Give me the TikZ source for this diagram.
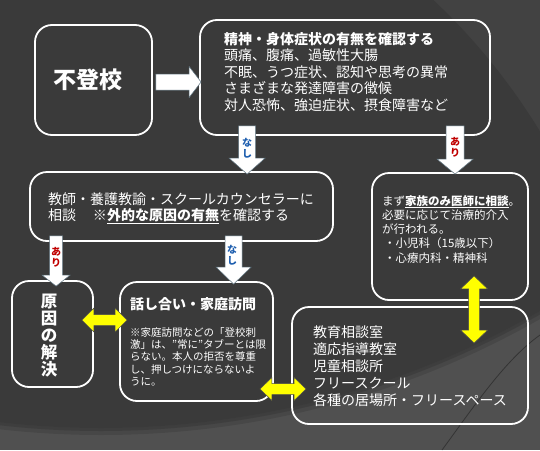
\documentclass[tikz,border=0pt]{standalone}
\usepackage{fontspec}
\setmainfont{Noto Sans CJK JP}
\usetikzlibrary{calc}
\definecolor{bgdark}{HTML}{3A3A3A}
\definecolor{bglight}{HTML}{505050}
\definecolor{bgmid}{HTML}{424242}
\definecolor{lblblue}{HTML}{1F5FAF}
\definecolor{lblred}{HTML}{C00000}
\definecolor{arrowedge}{HTML}{5F7480}
\definecolor{yel}{HTML}{FFFF00}
\newcommand\blkarrow[6]{%
  \path ($(#3)!#6!(#2)$) coordinate (bah);
  \draw[#1] ($(#2)!#4!90:(#3)$) -- ($(bah)!#4!90:(#3)$) -- ($(bah)!#5!90:(#3)$) -- (#3)
    -- ($(bah)!#5!-90:(#3)$) -- ($(bah)!#4!-90:(#3)$) -- ($(#2)!#4!-90:(#3)$) -- cycle;
}
\newcommand\dblarrow[6]{%
  \path ($(#2)!#6!(#3)$) coordinate (dah) ($(#3)!#6!(#2)$) coordinate (dbh);
  \draw[#1] (#2) -- ($(dah)!#5!90:(#3)$) -- ($(dah)!#4!90:(#3)$) -- ($(dbh)!#4!90:(#3)$)
    -- ($(dbh)!#5!90:(#3)$) -- (#3) -- ($(dbh)!#5!-90:(#3)$) -- ($(dbh)!#4!-90:(#3)$)
    -- ($(dah)!#4!-90:(#3)$) -- ($(dah)!#5!-90:(#3)$) -- cycle;
}
\tikzset{
  box/.style={draw=white, line width=1.8pt, rounded corners=17pt, inner sep=0pt},
  txt/.style={text=white, inner sep=0pt, align=left},
  lbl/.style={font=\fontsize{10}{11}\selectfont\bfseries, align=center, inner sep=0pt},
  wa/.style={fill=white, draw=arrowedge, line width=0.5pt},
  ya/.style={fill=yel, draw=gray!60!black, line width=0.5pt},
}
\begin{document}
\begin{tikzpicture}[x=1pt,y=-1pt]
\useasboundingbox (0,0) rectangle (540,450);
% background
\begin{scope}
\clip (0,0) rectangle (540,450);
\fill[bglight] (0,0) rectangle (540,450);
\draw[black, opacity=0.10, line width=14pt] (101,-453) circle[radius=881pt];
\draw[black, opacity=0.12, line width=6pt] (101,-453) circle[radius=881pt];
\fill[bgmid] (101,-453) circle[radius=881pt];
\begin{scope}
\clip (101,-453) circle[radius=881pt];
\fill[bgdark] (0,460) circle[radius=632pt];
\end{scope}
\draw[black!80!gray, opacity=0.5, line width=0.8pt] (442,450) .. controls (475,405) and (505,360) .. (540,335);
\end{scope}
% boxes
\node[box, minimum width=117pt, minimum height=110pt] (b1) at (93.5,80) {};
\node[txt, font=\fontsize{23}{26}\selectfont\bfseries] (t1) at (88,80) {不登校};
\node[box, minimum width=290pt, minimum height=115pt] (b2) at (345,77.5) {};
\node[txt, font=\fontsize{14}{16.5}\selectfont, anchor=north west] (t2) at (224,32)
  {\textbf{精神・身体症状の有無を確認する}\\頭痛、腹痛、過敏性大腸\\不眠、うつ症状、認知や思考の異常\\さまざまな発達障害の徴候\\対人恐怖、強迫症状、摂食障害など};
\node[box, minimum width=303pt, minimum height=69pt] (b3) at (181.5,206.5) {};
\node[txt, font=\fontsize{14}{16}\selectfont, anchor=north west] (t3) at (48,192.7)
  {教師・養護教諭・スクールカウンセラーに\\相談\hspace{1.2em}※\underline{\textbf{外的な原因の有無}}を確認する};
\node[box, minimum width=156pt, minimum height=127pt] (b4) at (450,236.5) {};
\node[txt, font=\fontsize{11.5}{14.3}\selectfont, anchor=north west] (t4) at (382,195)
  {まず\underline{\textbf{家族のみ医師に相談}}。\\必要に応じて治療的介入\\が行われる。\\\hspace*{2pt}・小児科（15歳以下）\\\hspace*{2pt}・心療内科・精神科};
\node[box, minimum width=81pt, minimum height=106pt] (b5) at (52.5,334) {};
\node[txt, align=center, font=\fontsize{16.5}{17}\selectfont\bfseries] (t5) at (49,336) {原\\因\\の\\解\\決};
\node[box, minimum width=153pt, minimum height=119pt] (b6) at (196.5,341.5) {};
\node[txt, font=\fontsize{14}{16}\selectfont\bfseries, anchor=north west] (t6a) at (130,297.7) {話し合い・家庭訪問};
\node[txt, font=\fontsize{10.5}{12.3}\selectfont, anchor=north west] (t6b) at (130,327.2)
  {※家庭訪問などの「登校刺\\激」は、"常に"タブーとは限\\らない。本人の拒否を尊重\\し、押しつけにならないよ\\うに。};
\node[box, minimum width=236pt, minimum height=117pt] (b7) at (410,365.5) {};
\node[txt, font=\fontsize{14}{17}\selectfont, anchor=north west] (t7) at (313,325.7)
  {教育相談室\\適応指導教室\\児童相談所\\フリースクール\\各種の居場所・フリースペース};
% arrows
\coordinate (a1s) at ($(b1.east)+(3,2)$);
\coordinate (a1e) at ($(a1s -| b2.west)+(2,0)$);
\blkarrow{wa}{a1s}{a1e}{8pt}{15.5pt}{12pt}
\coordinate (n1s) at ($(b2.south west)+(48,-10)$);
\coordinate (n1e) at ($(n1s |- b3.north)+(0,3)$);
\blkarrow{wa}{n1s}{n1e}{8.5pt}{18pt}{16pt}
\coordinate (r1s) at ($(b2.south west)+(256,-10)$);
\coordinate (r1e) at ($(r1s |- b4.north)+(0,2)$);
\blkarrow{wa}{r1s}{r1e}{9pt}{18pt}{15pt}
\coordinate (r2s) at ($(b3.south west)+(27,-6)$);
\coordinate (r2e) at ($(r2s |- b5.north)+(0,6)$);
\blkarrow{wa}{r2s}{r2e}{6.5pt}{14pt}{11pt}
\coordinate (n2s) at ($(b3.south west)+(204.5,-6)$);
\coordinate (n2e) at ($(n2s |- b6.north)+(0,3)$);
\blkarrow{wa}{n2s}{n2e}{8.5pt}{17.5pt}{17pt}
\coordinate (y1s) at ($(b5.east)+(-12,-14)$);
\coordinate (y1e) at ($(y1s -| b6.west)+(8,0)$);
\dblarrow{ya}{y1s}{y1e}{5.5pt}{12pt}{12pt}
\coordinate (y2s) at ($(b6.east)+(-14,47.5)$);
\coordinate (y2e) at ($(y2s -| b7.west)+(15,0)$);
\dblarrow{ya}{y2s}{y2e}{5.5pt}{11.5pt}{12pt}
\coordinate (y3s) at ($(b4.south west)+(103,-25)$);
\coordinate (y3e) at ($(y3s |- b7.north)+(0,37)$);
\dblarrow{ya}{y3s}{y3e}{5.5pt}{13.5pt}{13pt}
% labels
\node[lbl, text=lblblue] (l1) at ($(n1s)+(0,22.5)$) {な\\し};
\node[lbl, text=lblred] (l2) at ($(r1s)+(0,21.5)$) {あ\\り};
\node[lbl, text=lblred] (l3) at ($(r2s)+(0,21.5)$) {あ\\り};
\node[lbl, text=lblblue] (l4) at ($(n2s)+(-1.5,19.5)$) {な\\し};
\end{tikzpicture}
\end{document}
